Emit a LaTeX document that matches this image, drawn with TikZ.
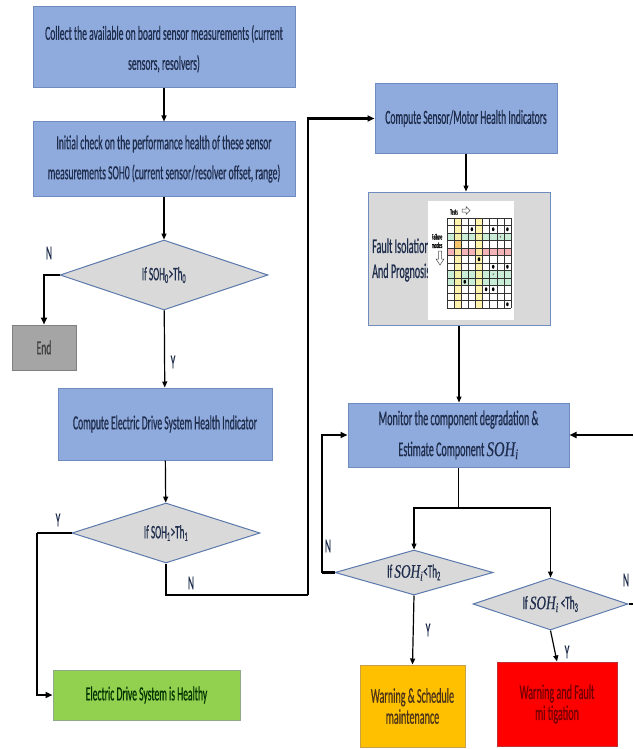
\documentclass[tikz,border=0pt]{standalone}
\usepackage{fontspec}
\setmainfont{Carlito}[FakeStretch=0.48,FakeBold=0.6]
\newfontfamily\sohfont{Liberation Serif}[FakeStretch=0.7,FakeBold=0.4]
\usetikzlibrary{shapes.geometric,arrows.meta,calc}
\definecolor{boxf}{HTML}{8FAADC}
\definecolor{boxb}{HTML}{6F8CC0}
\definecolor{txt}{HTML}{1F2D4D}
\definecolor{diaf}{HTML}{D9D9D9}
\definecolor{diab}{HTML}{5B79AD}
\definecolor{endf}{HTML}{A5A5A5}
\definecolor{endb}{HTML}{7F7F7F}
\definecolor{grnf}{HTML}{92D050}
\definecolor{grnb}{HTML}{8FA98A}
\definecolor{orgf}{HTML}{FFC000}
\definecolor{orgb}{HTML}{C9A04A}
\definecolor{redf}{HTML}{FF0000}
\definecolor{redb}{HTML}{C03030}
\definecolor{faultf}{HTML}{D9D9D9}
\definecolor{mgreen}{HTML}{C9EDD6}
\definecolor{mred}{HTML}{F5B5B8}
\definecolor{myel}{HTML}{FFF09A}
\definecolor{morg}{HTML}{F6C46A}
\newcommand{\mainsz}{\fontsize{20}{30}\selectfont}
\newcommand{\soh}{{\sohfont\itshape SOH\textsubscript{i}}}
\tikzset{
  box/.style={draw=boxb, fill=boxf, line width=1pt, inner sep=0pt, align=center, text=txt, font=\mainsz},
  dia/.style={diamond, aspect=3, draw=diab, fill=diaf, line width=1pt, inner sep=0pt, text=txt, font=\fontsize{19}{21}\selectfont},
  lbl/.style={text=txt, font=\fontsize{20}{22}\selectfont, inner sep=0pt},
  conn/.style={draw=black, line width=1.2pt, -{Triangle[length=6pt,width=5pt]}},
  thick conn/.style={draw=black, line width=2.2pt, -{Triangle[length=7pt,width=6pt]}},
  plain/.style={draw=black, line width=1.2pt},
  thick plain/.style={draw=black, line width=2.2pt},
}
\begin{document}
\begin{tikzpicture}[x=1pt,y=-1pt]
\fill[white] (0,0) rectangle (633,749);
\useasboundingbox (0,0) rectangle (633,749);

% left column
\node[box, minimum width=262pt, minimum height=81pt, text depth=-6pt] (b1) at (164,47.5)
  {Collect the available on board sensor measurements (current\\sensors, resolvers)};
\node[box, minimum width=262pt, minimum height=74pt] (b2) at (164,159)
  {Initial check on the performance health of these sensor\\measurements SOH0 (current sensor/resolver offset, range)};
\node[dia, minimum width=208pt, minimum height=70pt] (d1) at (164,275)
  {If SOH\textsubscript{0}>Th\textsubscript{0}};
\node[draw=endb, fill=endf, line width=1pt, minimum width=64pt, minimum height=45pt, inner sep=0pt,
  text=black!75, font=\mainsz] (endb) at (44,347.5) {End};
\node[box, minimum width=214pt, minimum height=72pt] (b3) at (165,424)
  {Compute Electric Drive System Health Indicator};
\node[dia, minimum width=188pt, minimum height=60pt] (d2) at (166,533)
  {If SOH\textsubscript{1}>Th\textsubscript{1}};
\node[draw=grnb, fill=grnf, line width=1pt, minimum width=187pt, minimum height=50pt, inner sep=0pt,
  text=black!80!green, font=\mainsz] (green) at (146.5,695) {Electric Drive System is Healthy};

% right column
\node[box, minimum width=182pt, minimum height=69pt] (sensor) at (466,118.5)
  {Compute Sensor/Motor Health Indicators};
\node[draw=boxb, fill=faultf, line width=1pt, minimum width=182pt, minimum height=133pt, inner sep=0pt] (fault) at (459,258.5) {};
\node[text=txt, font=\fontsize{21}{25}\selectfont, align=left, anchor=west, inner sep=0pt] (ftext) at (372,260)
  {Fault Isolation\\And Prognosis};

% matrix picture
\fill[white] (428,201) rectangle (514,320);
\begin{scope}
  \foreach \r in {2,7,8} \fill[mgreen] (447,218+\r*7.5) rectangle (511,218+\r*7.5+7.5);
  \fill[mred] (447,218+4*7.5) rectangle (511,218+5*7.5);
  \foreach \c in {1,4} \fill[myel, opacity=0.8] (447+\c*7.11,218) rectangle (447+\c*7.11+7.11,308);
  \fill[morg] (447+1*7.11,218+3*7.5) rectangle (447+2*7.11,218+4*7.5);
  \foreach \c in {0,...,9} \draw[black!80, line width=0.5pt] (447+\c*7.11,218) -- (447+\c*7.11,308);
  \foreach \r in {0,...,12} \draw[black!80, line width=0.5pt] (447,218+\r*7.5) -- (511,218+\r*7.5);
  \foreach \c/\r in {3/1,6/1,8/1,4/5,6/6,8/6,2/8,5/9,6/9,8/11}
    \fill[black] (447+\c*7.11+3.55,218+\r*7.5+3.75) ellipse (1.3pt and 2pt);
  \foreach \c/\r in {7/2,6/7}
    \fill[black!50] (447+\c*7.11+3.55,218+\r*7.5+3.75) ellipse (0.7pt and 1.3pt);
\end{scope}
\node[font=\fontsize{8}{8}\selectfont, inner sep=0pt] (tests) at (454,212) {Tests};
\draw[black!70, line width=0.5pt] (462,209) -- (466,209) -- (466,206.5) -- (470,210.5) -- (466,214.5) -- (466,212) -- (462,212) -- cycle;
\node[font=\fontsize{8}{8.5}\selectfont, align=center, inner sep=0pt] (fmodes) at (437,241) {Failure\\modes};
\draw[black!70, line width=0.5pt] (438.5,251) -- (441.5,251) -- (441.5,259) -- (444,259) -- (440,265) -- (436,259) -- (438.5,259) -- cycle;

\node[box, minimum width=221pt, minimum height=64pt, font=\fontsize{21}{31}\selectfont] (mon) at (458.5,435)
  {Monitor the component degradation \&\\Estimate Component \soh};
\node[dia, minimum width=158pt, minimum height=45pt] (d3) at (414,572.5)
  {If \soh<Th\textsubscript{2}};
\node[dia, minimum width=155pt, minimum height=52pt] (d4) at (550.5,604)
  {If \soh\ <Th\textsubscript{3}};
\node[draw=orgb, fill=orgf, line width=1pt, minimum width=105pt, minimum height=82pt, inner sep=0pt,
  align=center, text=black!60!brown, font=\fontsize{21}{21}\selectfont] (org) at (412.5,706)
  {Warning \& Schedule\\maintenance};
\node[draw=redb, fill=redf, line width=1pt, minimum width=120pt, minimum height=84pt, inner sep=0pt,
  align=center, text=red!45!black, font=\fontsize{21}{21}\selectfont] (red) at (557,704)
  {Warning and Fault\\mi tigation};

% waypoints
\coordinate (c1) at (37,533);
\coordinate (c2) at (308,595);
\coordinate (c3) at (458.5,508);
\coordinate (c4) at (322,572.5);
\coordinate (rin) at (633,435);
\coordinate (rout) at (633,604);

% connectors
\draw[conn] (b1) -- (b2);
\draw[conn] (b2) -- (d1);
\draw[thick conn] (d1.west) -| (endb.north);
\draw[conn] (d1) -- (b3);
\draw[conn] (b3) -- (d2);
\draw[thick plain] (d2.west) -- (c1);
\draw[thick conn] (c1) |- (green.west);
\draw[thick plain] (d2.south) |- (c2);
\draw[thick conn] (c2) |- (sensor.west);
\draw[conn] (sensor.south) -- (sensor.south |- fault.north);
\draw[conn] (fault.south) -- (fault.south |- mon.north);
\draw[thick conn] (rin) -- (mon.east);
\draw[plain] (mon.south) -- (c3);
\draw[conn] (c3) -| (d3.north);
\draw[conn] (c3) -| (d4.north);
\draw[thick plain] (d3.west) -- (c4);
\draw[thick conn] (c4) |- (mon.west);
\draw[conn] (d3.south) -- (org.north);
\draw[conn] (d4.south) -- (red.north);
\draw[thick plain] (d4.east) -- (rout);

% labels
\node[lbl] (n1) at (49,253) {N};
\node[lbl] (y1) at (173,362) {Y};
\node[lbl] (y2) at (58,520) {Y};
\node[lbl] (n2) at (191,583) {N};
\node[lbl] (n3) at (328,546) {N};
\node[lbl] (y3) at (428,630) {Y};
\node[lbl] (y4) at (567,652) {Y};
\node[lbl] (n4) at (626,580) {N};
\end{tikzpicture}
\end{document}
